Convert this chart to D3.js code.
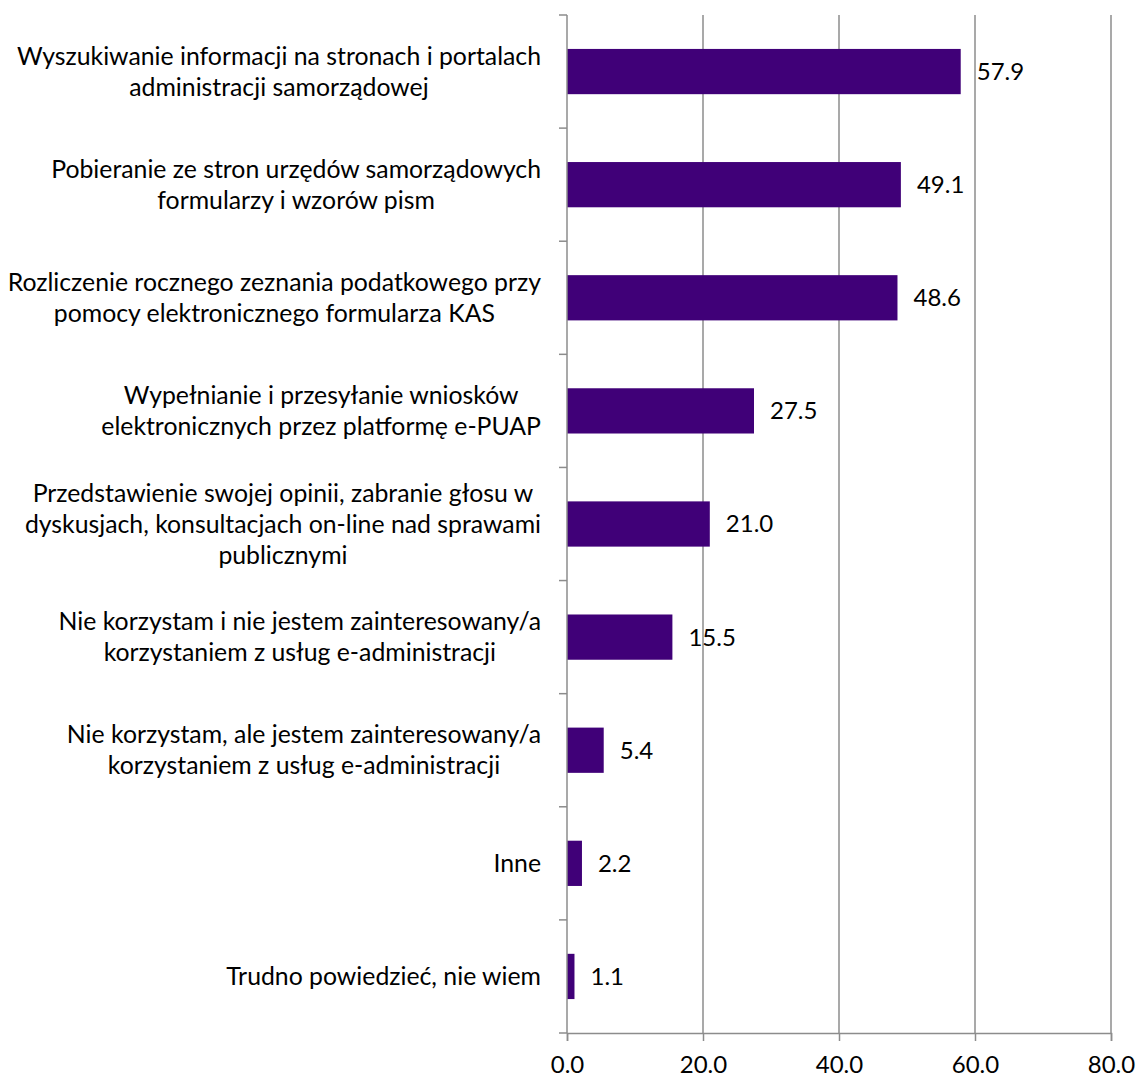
<!DOCTYPE html>
<html><head><meta charset="utf-8">
<script src="https://cdn.jsdelivr.net/npm/d3@7"></script>
<style>body{margin:0;background:#fff}svg{display:block}text{font-family:Lato,"Open Sans",sans-serif;fill:#000}</style>
</head><body>
<svg id="c" width="1136" height="1079"></svg>
<script>
const categories = [
  ["Wyszukiwanie informacji na stronach i portalach","administracji samorządowej"],
  ["Pobieranie ze stron urzędów samorządowych","formularzy i wzorów pism"],
  ["Rozliczenie rocznego zeznania podatkowego przy","pomocy elektronicznego formularza KAS"],
  ["Wypełnianie i przesyłanie wniosków","elektronicznych przez platformę e-PUAP"],
  ["Przedstawienie swojej opinii, zabranie głosu w","dyskusjach, konsultacjach on-line nad sprawami","publicznymi"],
  ["Nie korzystam i nie jestem zainteresowany/a","korzystaniem z usług e-administracji"],
  ["Nie korzystam, ale jestem zainteresowany/a","korzystaniem z usług e-administracji"],
  ["Inne"],
  ["Trudno powiedzieć, nie wiem"]
];
const values = [57.9, 49.1, 48.6, 27.5, 21.0, 15.5, 5.4, 2.2, 1.1];
const xTicks = [0, 20, 40, 60, 80];

(function(){
const svg = d3.select("#c");
const pL = 567, pR = 1111, pT = 15, pB = 1033;
const fsL = 24.8, fsN = 24, lh = 31;
const x = d3.scaleLinear().domain([0, 80]).range([pL, pR]);
const idx = d3.range(categories.length);
const y = d3.scaleBand().domain(idx).range([pT, pB]).paddingInner(0.6).paddingOuter(0.3);
const yb = d3.scaleBand().domain(idx).range([pT, pB]);
const grey = "#8c8c8c";

svg.append("g").selectAll("line").data(xTicks.slice(1)).join("line")
  .attr("x1", d => x(d)).attr("x2", d => x(d)).attr("y1", pT).attr("y2", pB)
  .attr("stroke", grey).attr("stroke-width", 1.5);

svg.append("g").selectAll("rect").data(values).join("rect")
  .attr("x", x(0)).attr("y", (d, i) => y(i)).attr("width", d => x(d) - x(0)).attr("height", y.bandwidth())
  .attr("fill", "#400078");

const xa = svg.append("g").attr("transform", `translate(0,${pB})`)
  .call(d3.axisBottom(x).tickValues(xTicks).tickFormat(d3.format(".1f")).tickSize(8).tickPadding(15));
xa.attr("font-family", null).attr("font-size", null);
xa.select(".domain").attr("stroke", grey).attr("stroke-width", 1.5);
xa.selectAll(".tick line").attr("stroke", grey).attr("stroke-width", 1.5);
xa.selectAll("text").style("font-size", fsN + "px").attr("fill", "#000");

const ya = svg.append("g");
ya.append("line").attr("x1", pL).attr("x2", pL).attr("y1", pT).attr("y2", pB).attr("stroke", grey).attr("stroke-width", 1.5);
ya.selectAll("line.t").data(d3.range(categories.length + 1)).join("line").attr("class", "t")
  .attr("x1", pL - 8).attr("x2", pL)
  .attr("y1", d => pT + d * yb.bandwidth()).attr("y2", d => pT + d * yb.bandwidth())
  .attr("stroke", grey).attr("stroke-width", 1.5);

svg.append("g").selectAll("text").data(values).join("text")
  .attr("x", d => x(d) + 16).attr("y", (d, i) => y(i) + y.bandwidth() / 2)
  .attr("dy", "0.35em").style("font-size", fsN + "px").text(d => d3.format(".1f")(d));

const labelRight = 541;
categories.forEach((lines, i) => {
  const g = svg.append("g");
  const cy = y(i) + y.bandwidth() / 2;
  const t = g.selectAll("text").data(lines).join("text")
    .attr("y", (d, j) => cy + (j - (lines.length - 1) / 2) * lh)
    .attr("dy", "0.35em").style("font-size", fsL + "px").attr("text-anchor", "middle").text(d => d);
  let w = 0; t.each(function(){ w = Math.max(w, this.getComputedTextLength()); });
  t.attr("x", labelRight - w / 2);
});
})();
</script>
</body></html>
